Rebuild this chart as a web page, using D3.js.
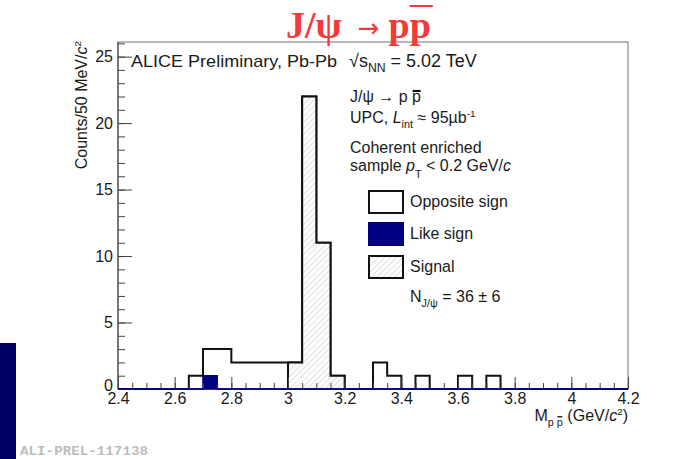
<!DOCTYPE html>
<html>
<head>
<meta charset="utf-8">
<script src="https://cdn.jsdelivr.net/npm/d3@7"></script>
<style>
  body { margin: 0; background: #fff; }
  svg { display: block; font-family: "Liberation Sans", Arial, sans-serif; }
</style>
</head>
<body>
<div id="chart"></div>
<script>
// Bin low edges (GeV/c^2), 50 MeV bins
const binLow = [2.40, 2.45, 2.50, 2.55, 2.60, 2.65, 2.70, 2.75, 2.80, 2.85, 2.90, 2.95,
                3.00, 3.05, 3.10, 3.15, 3.20, 3.25, 3.30, 3.35, 3.40, 3.45, 3.50, 3.55,
                3.60, 3.65, 3.70, 3.75, 3.80, 3.85, 3.90, 3.95, 4.00, 4.05, 4.10, 4.15];
const binWidth = 0.05;

// Counts per bin
const oppositeSign = [0, 0, 0, 0, 0, 1, 3, 3, 2, 2, 2, 2,
                      2, 22, 11, 1, 0, 0, 2, 1, 0, 1, 0, 0,
                      1, 0, 1, 0, 0, 0, 0, 0, 0, 0, 0, 0];
const likeSign     = [0, 0, 0, 0, 0, 0, 1, 0, 0, 0, 0, 0,
                      0, 0, 0, 0, 0, 0, 0, 0, 0, 0, 0, 0,
                      0, 0, 0, 0, 0, 0, 0, 0, 0, 0, 0, 0];
const signal       = [0, 0, 0, 0, 0, 0, 0, 0, 0, 0, 0, 0,
                      2, 22, 11, 1, 0, 0, 0, 0, 0, 0, 0, 0,
                      0, 0, 0, 0, 0, 0, 0, 0, 0, 0, 0, 0];

// Axis ticks
const xTickValues = [2.4, 2.6, 2.8, 3.0, 3.2, 3.4, 3.6, 3.8, 4.0, 4.2];
const yTickValues = [0, 5, 10, 15, 20, 25];
const xDomain = [2.4, 4.2];
const yDomain = [0, 26.1];

const legendLabels = ["Opposite sign", "Like sign", "Signal"];

const W = 695, H = 459;
const frame = { left: 118, right: 628, top: 42, bottom: 389 };

const svg = d3.select("#chart").append("svg")
    .attr("width", W)
    .attr("height", H);

// hatch pattern for the signal
const defs = svg.append("defs");
defs.append("pattern")
    .attr("id", "hatch")
    .attr("patternUnits", "userSpaceOnUse")
    .attr("width", 6).attr("height", 6)
    .call(p => p.append("rect").attr("width", 6).attr("height", 6).attr("fill", "#fbfcfb"))
    .call(p => p.append("path")
        .attr("d", "M0,6 L6,0 M-1,1 L1,-1 M5,7 L7,5")
        .attr("stroke", "#d0d6d0").attr("stroke-width", 0.8));

const x = d3.scaleLinear().domain(xDomain).range([frame.left, frame.right]);
const y = d3.scaleLinear().domain(yDomain).range([frame.bottom, frame.top]);

// frame
svg.append("rect")
    .attr("x", frame.left).attr("y", frame.top)
    .attr("width", frame.right - frame.left)
    .attr("height", frame.bottom - frame.top)
    .attr("fill", "none").attr("stroke", "#8a8a8a").attr("stroke-width", 1.2);

// step helpers
const stepPts = vals => {
    const pts = binLow.map((b, i) => [b, vals[i]]);
    pts.push([binLow[binLow.length - 1] + binWidth, vals[vals.length - 1]]);
    return pts;
};
const stepLine = d3.line().curve(d3.curveStepAfter).x(d => x(d[0])).y(d => y(d[1]));

// opposite sign histogram
svg.append("path")
    .attr("d", stepLine(stepPts(oppositeSign)))
    .attr("fill", "none").attr("stroke", "#111").attr("stroke-width", 2);

// signal histogram (hatched)
const sigIdx = signal.map((v, i) => v > 0 ? i : -1).filter(i => i >= 0);
const sigPts = sigIdx.map(i => [binLow[i], signal[i]]);
const sigEnd = binLow[sigIdx[sigIdx.length - 1]] + binWidth;
sigPts.push([sigEnd, signal[sigIdx[sigIdx.length - 1]]]);
svg.append("path")
    .attr("d", d3.area().curve(d3.curveStepAfter)
        .x(d => x(d[0])).y0(y(0)).y1(d => y(d[1]))(sigPts))
    .attr("fill", "url(#hatch)");
svg.append("path")
    .attr("d", stepLine([[sigPts[0][0], 0], ...sigPts, [sigEnd, 0]]))
    .attr("fill", "none").attr("stroke", "#111").attr("stroke-width", 2);

// like sign histogram
svg.append("g").selectAll("rect")
    .data(binLow.map((b, i) => ({ b, v: likeSign[i] })).filter(d => d.v > 0))
    .join("rect")
    .attr("x", d => x(d.b))
    .attr("y", d => y(d.v))
    .attr("width", d => x(d.b + binWidth) - x(d.b))
    .attr("height", d => y(0) - y(d.v))
    .attr("fill", "#000080");
svg.append("path")
    .attr("d", stepLine(stepPts(likeSign)))
    .attr("fill", "none").attr("stroke", "#000080").attr("stroke-width", 1.6);

// axes
const axisFont = g => g.selectAll("text")
    .style("font-family", "Liberation Sans, Arial, sans-serif")
    .attr("font-size", 16).attr("fill", "#1a1a1a");

svg.append("g")
    .attr("transform", `translate(0,${frame.bottom})`)
    .call(d3.axisBottom(x).tickValues(d3.range(2.4, 4.2001, 0.05))
        .tickSizeInner(-6).tickSizeOuter(0).tickFormat(""))
    .call(g => g.select(".domain").remove())
    .call(g => g.selectAll("line").attr("stroke", "#444"));
svg.append("g")
    .attr("transform", `translate(0,${frame.bottom})`)
    .call(d3.axisBottom(x).tickValues(xTickValues)
        .tickSizeInner(-12).tickSizeOuter(0).tickPadding(4).tickFormat(d3.format("~g")))
    .call(g => g.select(".domain").remove())
    .call(g => g.selectAll("line").attr("stroke", "#444"))
    .call(axisFont);

svg.append("g")
    .attr("transform", `translate(${frame.left},0)`)
    .call(d3.axisLeft(y).tickValues(d3.range(0, 26.01, 1))
        .tickSizeInner(-7).tickSizeOuter(0).tickFormat(""))
    .call(g => g.select(".domain").remove())
    .call(g => g.selectAll("line").attr("stroke", "#444"));
svg.append("g")
    .attr("transform", `translate(${frame.left},0)`)
    .call(d3.axisLeft(y).tickValues(yTickValues)
        .tickSizeInner(-14).tickSizeOuter(0).tickPadding(5))
    .call(g => g.select(".domain").attr("stroke", "#555").attr("stroke-width", 1.3)
        .attr("d", `M0,${frame.bottom}V${frame.top}`))
    .call(g => g.selectAll("line").attr("stroke", "#444"))
    .call(axisFont)
    .call(g => g.selectAll(".tick").filter(d => d === 0).select("text").attr("dy", "0.1em"));

// redraw navy baseline on top of ticks
svg.append("line")
    .attr("x1", x(xDomain[0])).attr("x2", x(xDomain[1]))
    .attr("y1", y(0)).attr("y2", y(0))
    .attr("stroke", "#000080").attr("stroke-width", 1.6);

// rich text helper: parts = [text, style]
function richText(parent, px, py, parts, size, attrs = {}) {
    const t = parent.append("text").attr("x", px).attr("y", py)
        .attr("font-size", size).attr("fill", "#1a1a1a");
    Object.entries(attrs).forEach(([k, v]) => t.attr(k, v));
    let shift = 0;
    const spans = [];
    parts.forEach(p => {
        const [str, kind] = p;
        const s = t.append("tspan").text(str);
        let target = 0, fs = size;
        if (kind === "sub") { target = size * 0.3; fs = size * 0.68; }
        if (kind === "sublow") { target = size * 0.45; fs = size * 0.68; }
        if (kind === "sup") { target = -size * 0.4; fs = size * 0.62; }
        if (kind === "it") s.attr("font-style", "italic");
        s.attr("font-size", fs).attr("dy", target - shift);
        shift = target;
        spans.push(s);
    });
    return { t, spans };
}
function overBar(span, lift, width) {
    const bb = span.node().getBBox();
    svg.append("line")
        .attr("x1", bb.x + 0.5).attr("x2", bb.x + bb.width - 0.5)
        .attr("y1", bb.y + lift).attr("y2", bb.y + lift)
        .attr("stroke", "#111").attr("stroke-width", width);
}

// y-axis title
const yt = svg.append("g").attr("transform", "translate(87,41) rotate(-90)");
richText(yt, 0, 0, [["Counts/50 MeV/"], ["c", "it"], ["2", "sup"]], 16,
    { "text-anchor": "end" });

// x-axis title
const xt = richText(svg, frame.right, 421,
    [["M"], ["p ", "sub"], ["p", "sub"], [" (GeV/"], ["c", "it"], ["2", "sup"], [")"]], 16,
    { "text-anchor": "end" });
overBar(xt.spans[2], 1, 1.3);

// plot title
const title = svg.append("text").attr("x", 286).attr("y", 38)
    .style("font-family", "'Liberation Serif', 'DejaVu Serif', serif")
    .attr("font-weight", "bold").attr("font-size", 38).attr("fill", "#f23a3a");
title.append("tspan").text("J/ψ");
title.append("tspan").text("→")
    .style("font-family", "'DejaVu Sans', sans-serif")
    .attr("font-size", 26).attr("font-weight", "normal").attr("dx", 16).attr("dy", -1);
title.append("tspan").text("p").attr("dx", 9).attr("dy", 1);
const tbar = title.append("tspan").text("p");
{
    const bb = tbar.node().getBBox();
    svg.append("line")
        .attr("x1", bb.x).attr("x2", bb.x + bb.width + 2)
        .attr("y1", 6).attr("y2", 6)
        .attr("stroke", "#f23a3a").attr("stroke-width", 2);
}

// annotations
richText(svg, 131, 67, [["ALICE Preliminary, Pb-Pb"]], 17,
    { textLength: 206, lengthAdjust: "spacingAndGlyphs" });
richText(svg, 349, 67, [["√"], ["s"], ["NN", "sub"], [" = 5.02 TeV"]], 18);
const jp = richText(svg, 350, 102, [["J/ψ → p "], ["p"]], 16);
overBar(jp.spans[1], 3, 2.2);
richText(svg, 350, 123, [["UPC, "], ["L", "it"], ["int", "sub"], [" ≈ 95µb"], ["-1", "sup"]], 16);
richText(svg, 350, 153, [["Coherent enriched"]], 16);
richText(svg, 350, 171, [["sample "], ["p", "it"], ["T", "sublow"], [" < 0.2 GeV/"], ["c", "it"]], 16);

// legend
const legend = svg.append("g");
const boxTop = [191, 223, 256];
const boxStyle = [
    { fill: "#fff", stroke: "#111" },
    { fill: "#000080", stroke: "#000080" },
    { fill: "url(#hatch)", stroke: "#111" }
];
legendLabels.forEach((lab, i) => {
    legend.append("rect")
        .attr("x", 369).attr("y", boxTop[i]).attr("width", 34).attr("height", 22)
        .attr("fill", boxStyle[i].fill).attr("stroke", boxStyle[i].stroke)
        .attr("stroke-width", 2);
    legend.append("text").attr("x", 410).attr("y", boxTop[i] + 16)
        .attr("font-size", 16).attr("fill", "#1a1a1a").text(lab);
});
richText(svg, 410, 302, [["N"], ["J/ψ", "sub"], [" = 36 ± 6"]], 16);

// side marks
svg.append("rect").attr("x", 0).attr("y", 343).attr("width", 16).attr("height", H - 343)
    .attr("fill", "#000062");
svg.append("text").attr("x", 20).attr("y", 455)
    .style("font-family", "'Liberation Mono', 'DejaVu Sans Mono', monospace")
    .attr("font-weight", "bold")
    .attr("font-size", 12).attr("fill", "#bdbdbd")
    .attr("textLength", 128).attr("lengthAdjust", "spacingAndGlyphs")
    .text("ALI-PREL-117138");
</script>
</body>
</html>
